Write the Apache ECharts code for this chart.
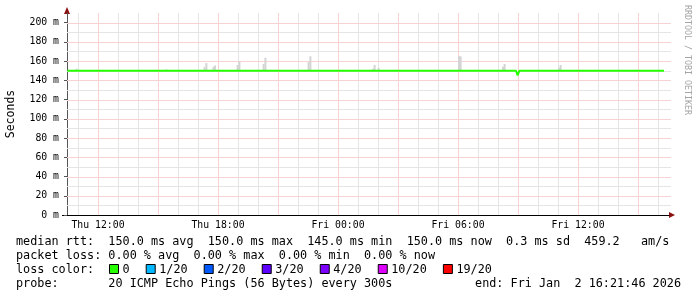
<!DOCTYPE html>
<html>
<head>
<meta charset="utf-8">
<script src="https://cdn.jsdelivr.net/npm/echarts@6/dist/echarts.min.js"></script>
<style>
html,body{margin:0;padding:0;background:#fff;}
#c{width:697px;height:297px;}
</style>
</head>
<body>
<div id="c"></div>
<script>
// ---- data (x in hours since Thu 00:00, y in ms) ----
const medianHours = [10.47, 32.9, 32.98, 33.07, 40.3];
const medianValues = [150, 150, 145, 150, 150];
const smokeHours = [10.93, 15.42, 17.33, 17.42, 17.77, 17.85, 18.98, 19.07, 20.28, 20.37, 22.53, 22.62, 25.75, 25.83, 26.03, 30.05, 30.13, 32.25, 32.33, 35.05, 35.13];
const smokeTop   = [152, 151.5, 154, 158, 154, 155.5, 156, 160, 157, 163.5, 159, 165, 152, 156, 153, 165, 165, 154, 157, 153, 156];
const smokeBase = 150;

const xLabelHours = [12, 18, 24, 30, 36];
const xLabelTexts = ['Thu 12:00', 'Thu 18:00', 'Fri 00:00', 'Fri 06:00', 'Fri 12:00'];
const majorGridHours = [12, 15, 18, 21, 24, 27, 30, 33, 36, 39];
const minorGridHours = [11, 13, 14, 16, 17, 19, 20, 22, 23, 25, 26, 28, 29, 31, 32, 34, 35, 37, 38, 40];
const yMajorTicks = [0, 20, 40, 60, 80, 100, 120, 140, 160, 180, 200];
const yMajorGrid = [20, 40, 60, 80, 100, 120, 140, 160, 180, 200];
const yMinorGrid = [10, 30, 50, 70, 90, 110, 130, 150, 170, 190];

const legendLine1 = 'median rtt:  150.0 ms avg  150.0 ms max  145.0 ms min  150.0 ms now  0.3 ms sd  459.2   am/s';
const legendLine2 = 'packet loss: 0.00 % avg  0.00 % max  0.00 % min  0.00 % now';
const lossLabel = 'loss color:';
const lossNames = ['0', '1/20', '2/20', '3/20', '4/20', '10/20', '19/20'];
const lossColors = ['#26ff00', '#00b8ff', '#0059ff', '#5e00ff', '#7e00ff', '#dd00ff', '#ff0000'];
const probeLine = 'probe:       20 ICMP Echo Pings (56 Bytes) every 300s';
const endLine = 'end: Fri Jan  2 16:21:46 2026';
const yAxisName = 'Seconds';
const watermark = 'RRDTOOL / TOBI OETIKER';

// ---- chart ----
const MONO = '"DejaVu Sans Mono", monospace';
const chart = echarts.init(document.getElementById('c'), null, {renderer: 'canvas'});

const X_MIN = 10.45, X_MAX = 40.55;
const GRAY = '#e5e5e5', RED = '#f7d2d2';

const graphics = [];
const lf = 11.8, cw = lf * 0.602;
graphics.push({type: 'text', left: 16, top: 236, style: {text: legendLine1, font: lf + 'px ' + MONO, fill: '#000'}});
graphics.push({type: 'text', left: 16, top: 250, style: {text: legendLine2, font: lf + 'px ' + MONO, fill: '#000'}});
graphics.push({type: 'text', left: 16, top: 264, style: {text: lossLabel, font: lf + 'px ' + MONO, fill: '#000'}});
let bx = 109.5;
lossNames.forEach((n, i) => {
  graphics.push({type: 'rect', shape: {x: bx, y: 264.5, width: 9, height: 9}, style: {fill: lossColors[i], stroke: '#000', lineWidth: 1}});
  graphics.push({type: 'text', x: bx + 13, y: 264, style: {text: n, font: lf + 'px ' + MONO, fill: '#000'}});
  bx = bx + 13 + n.length * cw + 16.6;
});
graphics.push({type: 'text', left: 16, top: 278, style: {text: probeLine, font: lf + 'px ' + MONO, fill: '#000'}});
graphics.push({type: 'text', right: 16, top: 278, style: {text: endLine, font: lf + 'px ' + MONO, fill: '#000'}});
graphics.push({type: 'text', x: 11, y: 114, rotation: Math.PI / 2, style: {text: yAxisName, font: '11.5px ' + MONO, fill: '#000', align: 'center', verticalAlign: 'middle'}});
graphics.push({type: 'text', x: 687, y: 5, rotation: -Math.PI / 2, style: {text: watermark, font: '8.3px ' + MONO, fill: '#a4a4a4', align: 'left', verticalAlign: 'middle'}});
// axis arrows and stubs
graphics.push({type: 'polygon', shape: {points: [[67, 7], [64, 14], [70, 14]]}, style: {fill: '#8b1010'}});
graphics.push({type: 'polygon', shape: {points: [[675, 215], [669, 212], [669, 218]]}, style: {fill: '#8b1010'}});
graphics.push({type: 'line', shape: {x1: 62, y1: 215.5, x2: 67, y2: 215.5}, style: {stroke: '#000', lineWidth: 1}});

const smokeData = smokeHours.map((h, i) => [h, smokeTop[i]]);
const medianData = medianHours.map((h, i) => [h, medianValues[i]]);

function vGrid(color) {
  return (params, api) => {
    const cs = params.coordSys;
    const x = Math.round(api.coord([api.value(0), 0])[0]) + 0.5;
    return {type: 'line', shape: {x1: x, y1: cs.y, x2: x, y2: cs.y + cs.height}, style: {stroke: color, lineWidth: 1}};
  };
}
function hGrid(color) {
  return (params, api) => {
    const cs = params.coordSys;
    const y = Math.round(api.coord([X_MIN, api.value(1)])[1]) + 0.5;
    return {type: 'line', shape: {x1: cs.x, y1: y, x2: cs.x + cs.width + 2, y2: y}, style: {stroke: color, lineWidth: 1}};
  };
}

chart.setOption({
  animation: false,
  backgroundColor: '#fff',
  grid: {left: 67, top: 13, width: 602, height: 202, containLabel: false},
  xAxis: {
    type: 'value', min: X_MIN, max: X_MAX, position: 'bottom',
    axisLine: {show: true, onZero: false, lineStyle: {color: '#000', width: 1}},
    axisTick: {show: false, customValues: xLabelHours},
    splitLine: {show: false},
    axisLabel: {
      show: true, customValues: xLabelHours, margin: 5,
      formatter: v => { const k = xLabelHours.indexOf(v); return k >= 0 ? xLabelTexts[k] : ''; },
      fontFamily: MONO, fontSize: 9.8, color: '#000'
    }
  },
  yAxis: {
    type: 'value', min: 0, max: 210, position: 'left',
    axisLine: {show: true, onZero: false, lineStyle: {color: '#555', width: 1}},
    axisTick: {show: true, length: 3, customValues: yMajorTicks, lineStyle: {color: '#555'}},
    splitLine: {show: false},
    axisLabel: {show: true, customValues: yMajorTicks, margin: 8, formatter: v => v + ' m', fontFamily: MONO, fontSize: 9.8, color: '#000'}
  },
  series: [
    {type: 'custom', name: 'vMinor', data: minorGridHours.map(h => [h, 0]), renderItem: vGrid(GRAY), silent: true, z: 1},
    {type: 'custom', name: 'hMinor', data: yMinorGrid.map(v => [X_MIN, v]), renderItem: hGrid(GRAY), silent: true, z: 1},
    {type: 'custom', name: 'vMajor', data: majorGridHours.map(h => [h, 0]), renderItem: vGrid(RED), silent: true, z: 1},
    {type: 'custom', name: 'hMajor', data: yMajorGrid.map(v => [X_MIN, v]), renderItem: hGrid(RED), silent: true, z: 1},
    {
      type: 'custom', name: 'smoke', data: smokeData, silent: true, z: 3,
      renderItem: (params, api) => {
        const top = api.coord([api.value(0), api.value(1)]);
        const base = api.coord([api.value(0), smokeBase]);
        return {type: 'rect', shape: {x: top[0] - 1, y: top[1], width: 2, height: base[1] - top[1]}, style: {fill: '#d4d4d4'}};
      }
    },
    {type: 'line', name: 'median', data: medianData, showSymbol: false, lineStyle: {color: '#26ff00', width: 2}, itemStyle: {color: '#26ff00'}, z: 5, silent: true}
  ],
  graphic: graphics
});
</script>
</body>
</html>
